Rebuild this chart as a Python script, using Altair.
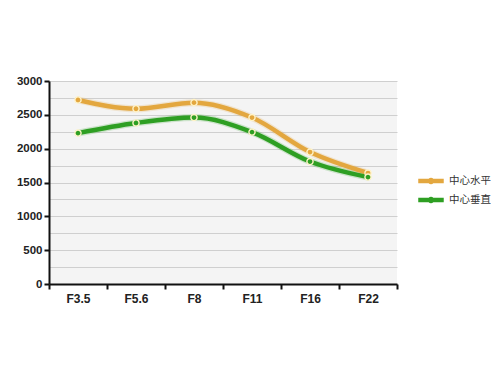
import altair as alt
import pandas as pd

apertures = ["F3.5", "F5.6", "F8", "F11", "F16", "F22"]
horizontal = [2720, 2590, 2680, 2460, 1950, 1640]
vertical = [2230, 2380, 2460, 2245, 1810, 1580]
series_names = ["中心水平", "中心垂直"]
series_colors = ["#E3A73F", "#2E9F23"]
y_ticks = list(range(0, 3001, 250))

rows = []
for a, h, v in zip(apertures, horizontal, vertical):
    rows.append({"aperture": a, "series": series_names[0], "value": h})
    rows.append({"aperture": a, "series": series_names[1], "value": v})
df = pd.DataFrame(rows)

x_enc = alt.X("aperture:N", sort=apertures,
              scale=alt.Scale(paddingInner=0, paddingOuter=0),
              axis=alt.Axis(title=None, tickBand="extent", labelAngle=0,
                            domainColor="#111", domainWidth=2,
                            tickColor="#111", tickWidth=2, tickSize=5,
                            labelFont="Liberation Sans", labelFontWeight="bold",
                            labelFontSize=12, labelColor="#222", labelPadding=4,
                            grid=False))

y_enc = alt.Y("value:Q", scale=alt.Scale(domain=[0, 3000], nice=False),
              axis=alt.Axis(title=None, values=y_ticks,
                            labelExpr="datum.value % 500 === 0 ? datum.label : ''",
                            format="d",
                            tickOpacity={"condition": {"test": "datum.value % 500 === 0", "value": 1}, "value": 0},
                            domainColor="#111", domainWidth=2,
                            tickColor="#111", tickWidth=2, tickSize=5,
                            labelFont="Liberation Sans", labelFontWeight="bold",
                            labelFontSize=11.5, labelColor="#222", labelPadding=2,
                            grid=True, gridColor="#CFCFCF", gridWidth=1))

color_enc = alt.Color(
    "series:N", sort=series_names,
    scale=alt.Scale(domain=series_names, range=series_colors),
    legend=alt.Legend(title=None, orient="none", legendX=369, legendY=87, padding=0,
                      symbolType="M-1,-0.17H1V0.17H-1Z M0.26,0A0.26,0.26 0 1,1 -0.26,0A0.26,0.26 0 1,1 0.26,0Z",
                      symbolSize=650, symbolStrokeWidth=0, symbolOpacity=1,
                      labelFont="Noto Sans CJK SC", labelFontSize=10.5,
                      labelColor="#333", rowPadding=-10.5, labelOffset=5),
)

glow = alt.Chart(df).mark_line(strokeWidth=7, opacity=0.2, interpolate="monotone").encode(
    x=x_enc, y=y_enc, color=color_enc,
)

line = alt.Chart(df).mark_line(strokeWidth=4.5, interpolate="monotone", strokeJoin="round").encode(
    x=x_enc, y=y_enc, color=color_enc,
)

points = alt.Chart(df).mark_point(filled=True, size=38, strokeWidth=1.4, opacity=1,
                                  stroke="#FFF3C8").encode(
    x=x_enc, y=y_enc, color=color_enc,
)

chart = alt.layer(glow, line, points).properties(
    width=348, height=203,
    padding={"left": 8, "top": 67, "right": 0, "bottom": 5},
    background="white",
).configure_view(fill="#F4F4F4", stroke=None)

chart.save("out.html", embed_options={"renderer": "svg", "actions": False})
